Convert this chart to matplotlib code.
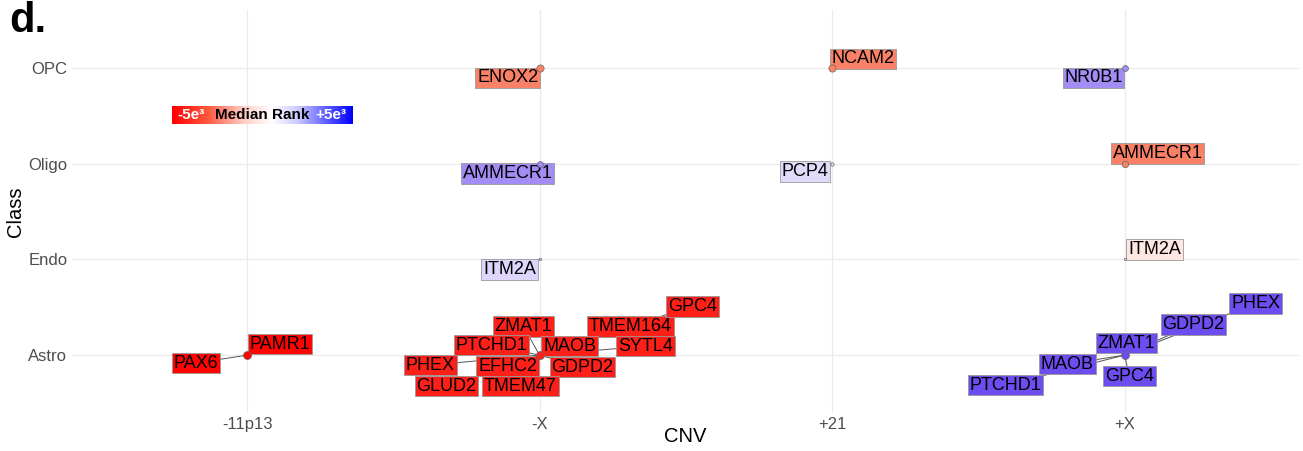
import numpy as np
import matplotlib
matplotlib.use("Agg")
import matplotlib.pyplot as plt
from matplotlib.colors import LinearSegmentedColormap, Normalize

plt.rcParams['font.family'] = ['Liberation Sans', 'DejaVu Sans']

cnv_levels = ["-11p13", "-X", "+21", "+X"]
class_levels = ["Astro", "Endo", "Oligo", "OPC"]

# one point per CNV / class group
grp_cnv = ["-11p13", "-X", "+X", "-X", "+X", "-X", "+21", "+X", "-X", "+21", "+X"]
grp_class = ["Astro", "Astro", "Astro", "Endo", "Endo", "Oligo", "Oligo", "Oligo", "OPC", "OPC", "OPC"]
grp_size = [11, 11, 11, 1, 1, 6, 2, 7, 9, 9, 6]

# genes
genes = ["PAMR1", "PAX6",
         "ZMAT1", "TMEM164", "GPC4", "PTCHD1", "MAOB", "SYTL4", "PHEX", "EFHC2",
         "GDPD2", "GLUD2", "TMEM47",
         "PHEX", "GDPD2", "ZMAT1", "MAOB", "GPC4", "PTCHD1",
         "ITM2A", "ITM2A",
         "AMMECR1", "PCP4", "AMMECR1",
         "ENOX2", "NCAM2", "NR0B1"]
gene_cnv = ["-11p13", "-11p13",
            "-X", "-X", "-X", "-X", "-X", "-X", "-X", "-X", "-X", "-X", "-X",
            "+X", "+X", "+X", "+X", "+X", "+X",
            "-X", "+X",
            "-X", "+21", "+X",
            "-X", "+21", "+X"]
gene_class = ["Astro"] * 19 + ["Endo", "Endo", "Oligo", "Oligo", "Oligo", "OPC", "OPC", "OPC"]
gene_rank = [-4900, -4900,
             -4400, -4400, -4400, -4400, -4400, -4400, -4400, -4400, -4400, -4400, -4400,
             3900, 3900, 3900, 3900, 3900, 3900,
             900, -500,
             2500, 800, -2600,
             -2600, -2600, 2500]

# label offsets (repel layout), in axis units
lab_dx = [0.113, -0.174,
          -0.055, 0.311, 0.523, -0.164, 0.103, 0.362, -0.373, -0.109, 0.147, -0.318, -0.065,
          0.448, 0.236, 0.007, -0.195, 0.017, -0.407,
          -0.103, 0.103,
          -0.109, -0.092, 0.113,
          -0.109, 0.106, -0.106]
lab_dy = [0.115, -0.083,
          0.302, 0.302, 0.510, 0.104, 0.094, 0.094, -0.104, -0.115, -0.125, -0.323, -0.323,
          0.542, 0.323, 0.125, -0.094, -0.219, -0.313,
          -0.104, 0.104,
          -0.104, -0.083, 0.104,
          -0.104, 0.094, -0.104]

cmap = LinearSegmentedColormap.from_list(
    "rank", [(0.0, "#FF0000"), (0.25, "#F8876C"), (0.5, "#FFFFFF"),
             (0.75, "#A48DF4"), (0.9, "#6A48F0"), (1.0, "#0000FF")])
key_cmap = LinearSegmentedColormap.from_list(
    "key", [(0.0, "#FF0000"), (0.2, "#FF5A40"), (0.4, "#FFD0C8"), (0.55, "#FFFFFF"),
            (0.7, "#C8C8FF"), (0.85, "#6060FF"), (1.0, "#0000FF")])
norm = Normalize(-5000, 5000)

xpos = {c: i + 1 for i, c in enumerate(cnv_levels)}
ypos = {c: i + 1 for i, c in enumerate(class_levels)}

fig = plt.figure(figsize=(13.03, 4.51), dpi=100)
ax = fig.add_axes([71.5 / 1303, 1 - 412.6 / 451, (1300 - 71.5) / 1303, (412.6 - 10.4) / 451])

for i, g in enumerate(genes):
    x0, y0 = xpos[gene_cnv[i]], ypos[gene_class[i]]
    lx, ly = x0 + lab_dx[i], y0 + lab_dy[i]
    col = cmap(norm(gene_rank[i]))
    ax.plot([x0, lx], [y0, ly], color="#555555", lw=0.7, zorder=2)
    ax.text(lx, ly, g, ha="center", va="center", fontsize=13, color="black", zorder=3,
            bbox=dict(boxstyle="square,pad=0.1", fc=col, ec="#999999", lw=0.6))

for i in range(len(grp_cnv)):
    ranks = [gene_rank[j] for j in range(len(genes))
             if gene_cnv[j] == grp_cnv[i] and gene_class[j] == grp_class[i]]
    col = cmap(norm(np.mean(ranks)))
    ax.scatter(xpos[grp_cnv[i]], ypos[grp_class[i]], s=grp_size[i] * 3, color=col,
               edgecolors="#666666", linewidths=0.5, zorder=4)

ax.set_xlim(0.4, 4.6)
ax.set_ylim(0.4, 4.6)
ax.set_xticks(range(1, 5))
ax.set_xticklabels(cnv_levels)
ax.set_yticks(range(1, 5))
ax.set_yticklabels(class_levels)
ax.tick_params(length=0, labelsize=12, labelcolor="#4d4d4d", pad=3)
ax.grid(True, color="#ebebeb", lw=0.9)
ax.set_axisbelow(True)
for s in ax.spines.values():
    s.set_visible(False)
fig.text(685 / 1303, 1 - 437 / 451, "CNV", fontsize=14.5, ha="center", va="center")
fig.text(16 / 1303, 1 - 212 / 451, "Class", fontsize=14.5, ha="center", va="center", rotation=90)

fig.text(9 / 1303, 1 - 21 / 451, "d.", fontsize=30, fontweight="bold", va="center")

# colour key
cax = fig.add_axes([172 / 1303, 1 - 124 / 451, 180 / 1303, 18 / 451])
cax.imshow(np.linspace(0, 1, 256)[None, :], cmap=key_cmap, aspect="auto", extent=[0, 1, 0, 1])
cax.set_axis_off()
cax.text(0.03, 0.5, "-5e³", color="white", fontsize=11, fontweight="bold", ha="left", va="center")
cax.text(0.5, 0.5, "Median Rank", color="black", fontsize=11, fontweight="bold", ha="center", va="center")
cax.text(0.97, 0.5, "+5e³", color="white", fontsize=11, fontweight="bold", ha="right", va="center")

fig.savefig("out.png", dpi=100)
